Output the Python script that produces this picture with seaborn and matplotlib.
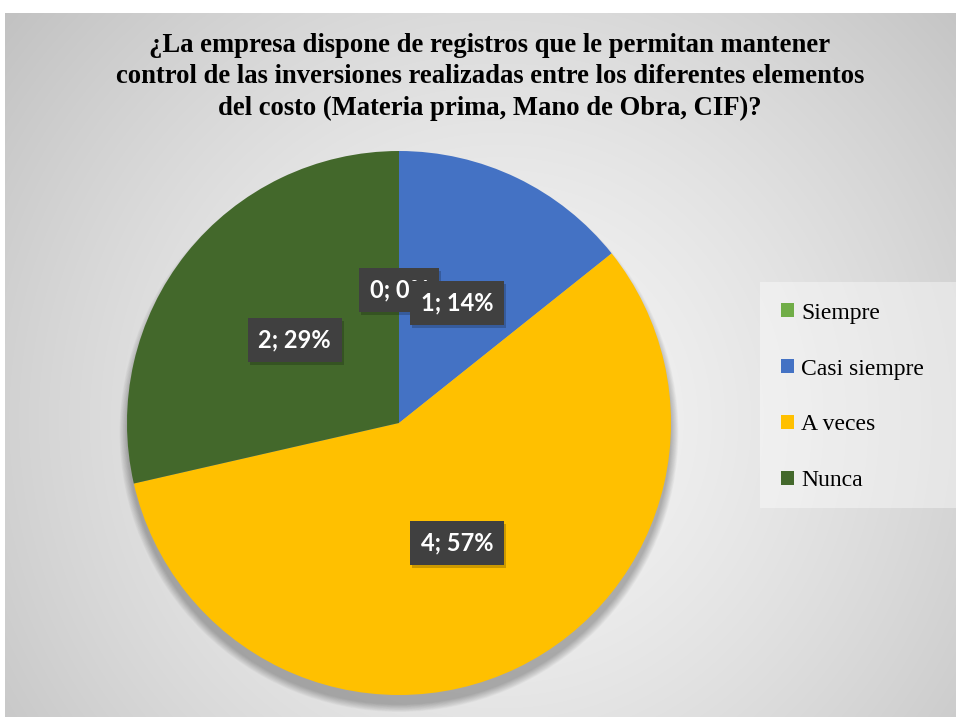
import matplotlib
matplotlib.use("Agg")
import matplotlib.pyplot as plt
import matplotlib.transforms as mtransforms
from matplotlib.patches import Circle, Patch, Rectangle
import numpy as np
import seaborn as sns

# ── Data ─────────────────────────────────────────────────────────────────────
TITLE = ("¿La empresa dispone de registros que le permitan mantener\n"
         "control de las inversiones realizadas entre los diferentes elementos\n"
         "del costo (Materia prima, Mano de Obra, CIF)?")
CATEGORIES = ["Siempre", "Casi siempre", "A veces", "Nunca"]
COUNTS = [0, 1, 4, 2]
COLORS = ["#70ad47", "#4472c4", "#ffc000", "#43682b"]

sns.set_theme(style="white")
plt.rcParams["font.family"] = ["Liberation Serif", "DejaVu Serif"]

W, H = 956, 717
fig = plt.figure(figsize=(W / 100, H / 100), dpi=100)
fig.patch.set_facecolor("white")

# ── Radial grey background of the chart area ─────────────────────────────────
bg = fig.add_axes([5 / W, 0, 1 - 5 / W, 1 - 13 / H])
yy, xx = np.mgrid[13:H, 5:W]
d = np.hypot(xx - 500, yy - 420) / 560
shade = np.clip(0.965 - 0.17 * d ** 1.4, 0.76, 1)
bg.imshow(np.dstack([shade] * 3), aspect="auto", extent=[0, 1, 0, 1])
bg.set_axis_off()

# lighter legend panel
fig.add_artist(Rectangle((760 / W, 1 - 508 / H), (W - 760) / W, 226 / H,
                         transform=fig.transFigure, facecolor="white",
                         alpha=0.4, edgecolor="none"))

# ── Pie ──────────────────────────────────────────────────────────────────────
cx, cy, r = 399, 423, 272
ax = fig.add_axes([(cx - r) / W, (H - cy - r) / H, 2 * r / W, 2 * r / H])
for k in range(12):
    ax.add_patch(Circle((0, -0.035), 1 + 0.0025 * k, color="black",
                        alpha=0.022, lw=0, zorder=0, clip_on=False))
wedges, _ = ax.pie(COUNTS, colors=COLORS, startangle=90, counterclock=False,
                   radius=1, wedgeprops=dict(linewidth=0, zorder=1))
ax.set_xlim(-1, 1)
ax.set_ylim(-1, 1)
ax.set_aspect("equal")
ax.set_axis_off()

total = sum(COUNTS)
shadow_tr = mtransforms.offset_copy(ax.transData, fig=fig, x=2, y=-3, units="dots")
for w, c in zip(wedges, COUNTS):
    mid = np.deg2rad((w.theta1 + w.theta2) / 2)
    x, y = 0.49 * np.cos(mid), 0.49 * np.sin(mid)
    label = f"{c}; {round(100 * c / total)}%"
    ax.text(x, y, label, transform=shadow_tr, ha="center", va="center",
            fontsize=17, fontweight="bold", family="Lato", color=(0, 0, 0, 0),
            bbox=dict(boxstyle="square,pad=0.45", fc="black", ec="none", alpha=0.2),
            zorder=4)
    ax.text(x, y, label, ha="center", va="center", fontsize=17,
            fontweight="bold", family="Lato", color="white",
            bbox=dict(boxstyle="square,pad=0.45", fc="#404040", ec="none"),
            zorder=5)

# ── Title ────────────────────────────────────────────────────────────────────
fig.text(490 / W, 1 - 77 / H, TITLE, ha="center", va="center", fontsize=19.2,
         fontweight="bold", color="black", linespacing=1.35)

# ── Legend ───────────────────────────────────────────────────────────────────
handles = [Patch(facecolor=col, edgecolor="none") for col in COLORS]
leg = fig.legend(handles, CATEGORIES, loc="center left",
                 bbox_to_anchor=(760 / W, 1 - 397 / H), fontsize=17,
                 frameon=False, handlelength=0.55, handleheight=0.55,
                 handletextpad=0.3, labelspacing=1.48, borderpad=0.9,
                 borderaxespad=0)
for t in leg.get_texts():
    t.set_color("black")

fig.savefig("out.png", dpi=100)
